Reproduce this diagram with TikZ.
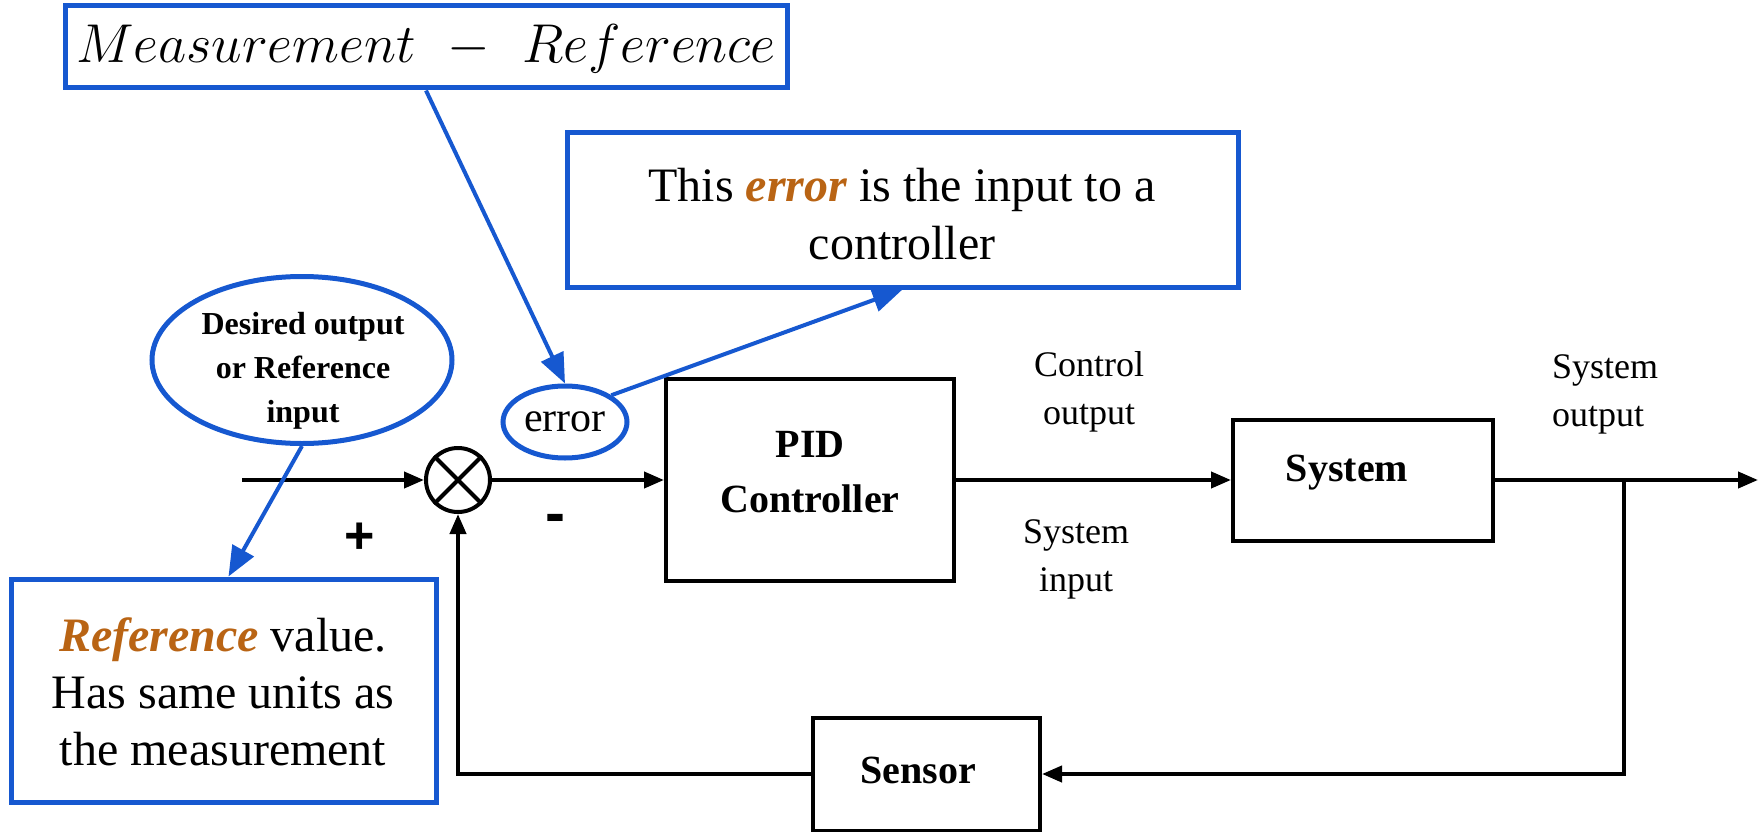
\documentclass[tikz,border=0pt]{standalone}
\usepackage{fontspec}
\setmainfont{Liberation Serif}
\setsansfont{Liberation Sans}
\usetikzlibrary{arrows.meta,shapes.geometric,calc}
\definecolor{calloutblue}{RGB}{22,88,208}
\definecolor{accent}{RGB}{185,100,20}

\begin{document}
\begin{tikzpicture}[x=1pt,y=-1pt,
  block/.style={draw=black,line width=4pt,rectangle,inner sep=0pt},
  callout/.style={draw=calloutblue,line width=5pt,rectangle,inner sep=0pt},
  bubble/.style={draw=calloutblue,line width=5pt,ellipse,inner sep=0pt},
  sumnode/.style={draw=black,line width=4pt,circle,inner sep=0pt,minimum size=64pt},
  sig/.style={line width=4pt,-{Triangle[length=20pt,width=16pt]}},
  pointer/.style={draw=calloutblue,line width=4pt,-{Triangle[length=30pt,width=24pt]}},
  lbl/.style={font=\fontsize{36}{48}\selectfont,align=center,inner sep=0pt},
  blocktext/.style={font=\fontsize{40}{55}\selectfont\bfseries,align=center,inner sep=0pt},
  notetext/.style={font=\fontsize{48}{58}\selectfont,align=center,inner sep=0pt},
  sign/.style={font=\fontsize{52}{52}\selectfont\sffamily\bfseries,inner sep=0pt}
]
\useasboundingbox (0,0) rectangle (1764,832);

% signal-flow blocks
\node[sumnode] (sum) at (458,480) {};
\draw[line width=4pt] (sum.45) -- (sum.225) (sum.135) -- (sum.-45);
\node[block,minimum width=288pt,minimum height=202pt] (pid) at (810,480) {};
\node[blocktext] (pidtext) at (810,472) {PID\\Controller};
\node[block,minimum width=260pt,minimum height=121pt] (sys) at (1363,480) {};
\node[blocktext] (systext) at (1347,473) {System};
\node[block,minimum width=227pt,minimum height=113pt] (sensor) at (926.5,774) {};
\node[blocktext] (sensortext) at (918,770) {Sensor};

\coordinate (in) at (242,480);
\coordinate (out) at (1758,480);
\coordinate (tap) at (1624,480);

% forward path
\draw[sig] (in) -- (sum.west);
\draw[sig] (sum.east) -- (pid.west);
\draw[sig] (pid.east) -- (sys.west);
\draw[sig] (sys.east) -- (out);
% feedback path
\draw[sig] (tap) |- (sensor.east);
\draw[sig] (sensor.west) -| (sum.south);

% signal labels
\node[sign] (plus) at (360,538) {+};
\node[sign,font=\fontsize{60}{60}\selectfont\sffamily\bfseries] (minus) at (555,524) {-};
\node[lbl] (ctrlout) at (1089,392) {Control\\output};
\node[lbl] (sysin) at (1076,559) {System\\input};
\node[lbl,align=left] (sysout) at (1605,394) {System\\output};

% annotations
\node[callout,minimum width=722pt,minimum height=82pt] (meas) at (426,47) {};
\node[inner sep=0pt] (meastext) at (426,49)
  {\scalebox{2.2}{\Huge$Measurement\hspace{9pt}-\hspace{9pt}Reference$}};

\node[callout,minimum width=671pt,minimum height=154pt] (errnote) at (902.5,210) {};
\node[notetext] (errnotetext) at (902,214)
  {This \textcolor{accent}{\textbf{\textit{error}}} is the input to a\\controller};

\node[callout,minimum width=425pt,minimum height=223pt] (refnote) at (223.5,690.5) {};
\node[notetext,font=\fontsize{48}{57}\selectfont] (refnotetext) at (223,692)
  {\textcolor{accent}{\textbf{\textit{Reference}}} value.\\Has same units as\\the measurement};

\node[bubble,minimum width=300pt,minimum height=167pt] (desired) at (302,360) {};
\node[inner sep=0pt,align=center,font=\fontsize{32}{44}\selectfont\bfseries] (desiredtext) at (303,371)
  {Desired output\\or Reference\\input};

\node[bubble,minimum width=124pt,minimum height=72pt] (err) at (565,422) {};
\node[inner sep=0pt,font=\fontsize{42}{42}\selectfont] (errtext) at (565,422) {error};

% pointers
\draw[pointer] (meas.south) -- (err.north);
\draw[pointer] (err.30) -- (errnote.south);
\draw[pointer] (desired.south) -- ($(refnote.north)+(5,0)$);
\end{tikzpicture}
\end{document}
